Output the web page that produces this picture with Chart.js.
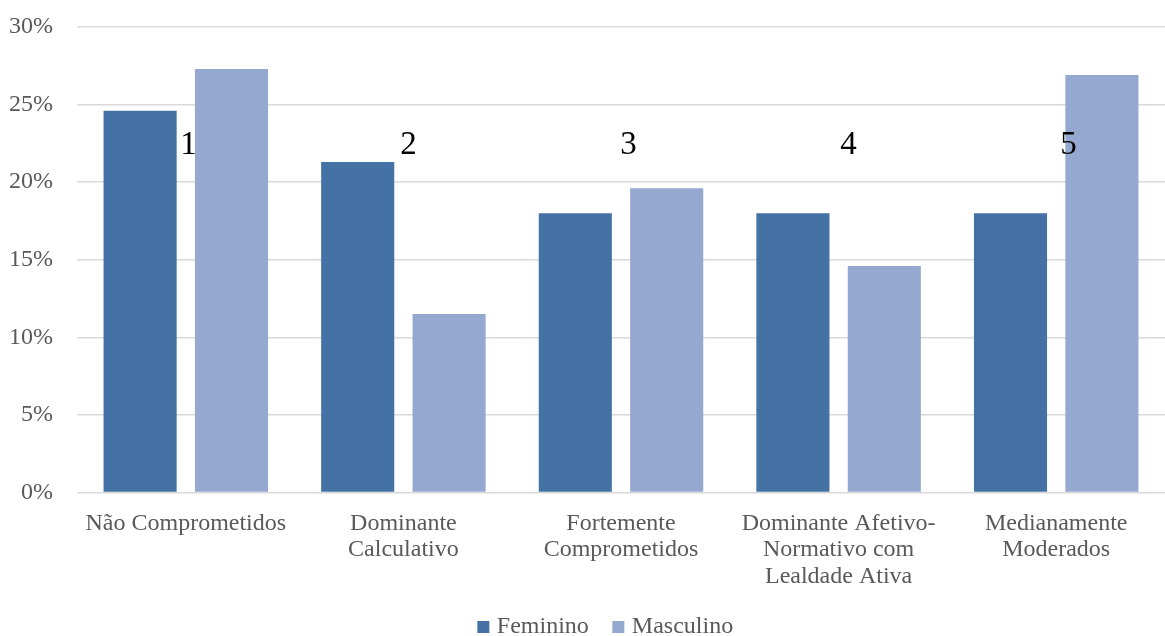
<!DOCTYPE html>
<html>
<head>
<meta charset="utf-8">
<script src="https://cdn.jsdelivr.net/npm/chart.js@4/dist/chart.umd.min.js"></script>
<style>
  html, body { margin: 0; padding: 0; background: #ffffff; overflow: hidden; }
  #wrap { width: 1165px; height: 636px; position: relative; overflow: hidden; }
</style>
</head>
<body>
<div id="wrap"><canvas id="chart" width="1165" height="636"></canvas></div>
<script>
// Perfis de comprometimento por sexo
const categories = [
  'Não Comprometidos',
  ['Dominante', 'Calculativo'],
  ['Fortemente', 'Comprometidos'],
  ['Dominante Afetivo-', 'Normativo com', 'Lealdade Ativa'],
  ['Medianamente', 'Moderados']
];
const groupNumbers = ['1', '2', '3', '4', '5'];
const feminino = [24.6, 21.3, 18.0, 18.0, 18.0];
const masculino = [27.3, 11.5, 19.6, 14.6, 26.9];
const yTicks = [0, 5, 10, 15, 20, 25, 30];

const serif = '"Liberation Serif", "Times New Roman", serif';

// Writes the cluster number across each category group
const groupNumberPlugin = {
  id: 'groupNumbers',
  afterLayout(chart) {
    // legend sits a little right of the canvas centre
    if (chart.legend) {
      chart.legend.left += 20;
      chart.legend.right += 20;
    }
  },
  afterDatasetsDraw(chart) {
    const { ctx, scales } = chart;
    const x = scales.x, y = scales.y;
    const step = (x.width / groupNumbers.length) * 1.011;
    ctx.save();
    ctx.fillStyle = '#000000';
    ctx.font = '33px ' + serif;
    ctx.textAlign = 'center';
    ctx.textBaseline = 'middle';
    groupNumbers.forEach((n, i) => {
      const px = x.getPixelForValue(0) + 2.7 + i * step;
      ctx.fillText(n, px, y.getPixelForValue(22.4));
    });
    ctx.restore();
  }
};

new Chart(document.getElementById('chart'), {
  type: 'bar',
  data: {
    labels: categories,
    datasets: [
      { label: 'Feminino', data: feminino, backgroundColor: '#4472a5',
        categoryPercentage: 0.84, barPercentage: 0.8 },
      { label: 'Masculino', data: masculino, backgroundColor: '#95a9d0',
        categoryPercentage: 0.84, barPercentage: 0.8 }
    ]
  },
  options: {
    responsive: false,
    animation: false,
    layout: { padding: { top: 27, right: 0, bottom: -13, left: 10 } },
    plugins: {
      tooltip: { enabled: false },
      legend: {
        position: 'bottom',
        labels: {
          color: '#595959',
          font: { family: serif, size: 24 },
          usePointStyle: true,
          pointStyle: 'rect',
          boxWidth: 3,
          boxHeight: 12,
          padding: 28
        }
      }
    },
    scales: {
      x: {
        grid: { display: false, drawTicks: false },
        border: { display: false },
        afterFit(scale) { scale.height = 94.5; },
        ticks: {
          color: '#595959',
          font: { family: serif, size: 24, lineHeight: 1.1 },
          padding: 18,
          maxRotation: 0,
          autoSkip: false
        }
      },
      y: {
        min: 0,
        max: 30,
        afterBuildTicks(scale) { scale.ticks = yTicks.map(v => ({ value: v })); },
        afterFit(scale) {
          scale.width = 67;
          scale.paddingTop = 0;
        },
        grid: { color: '#d9d9d9', lineWidth: 1.5, drawTicks: false },
        border: { display: false },
        ticks: {
          color: '#595959',
          font: { family: serif, size: 24 },
          padding: 24,
          callback: v => v + '%'
        }
      }
    }
  },
  plugins: [groupNumberPlugin]
});
</script>
</body>
</html>
